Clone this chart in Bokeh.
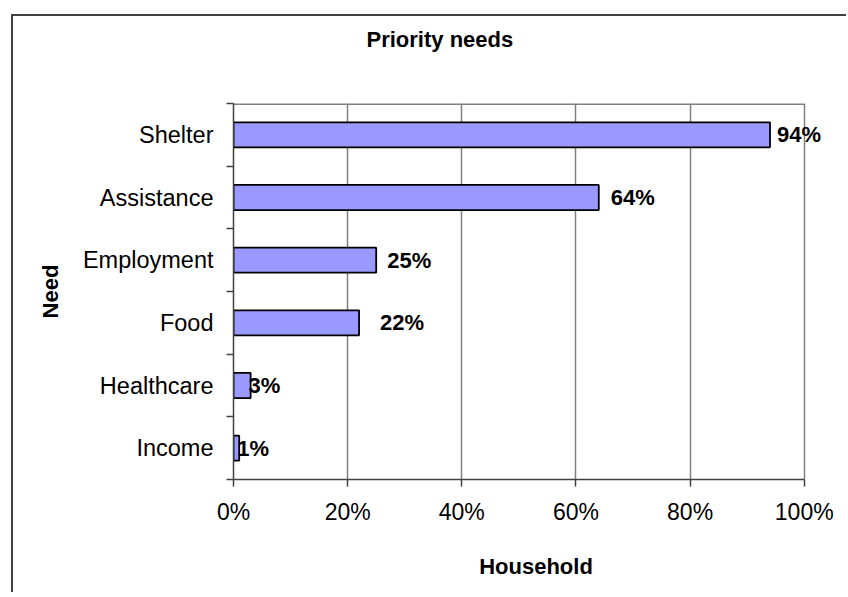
from bokeh.plotting import figure
from bokeh.models import (FixedTicker, PrintfTickFormatter, ColumnDataSource,
                          Range1d, LabelSet, Title)
from bokeh.embed import file_html
from bokeh.resources import INLINE
from bokeh.core.properties import value

# ---- data ----
categories = ["Shelter", "Assistance", "Employment", "Food", "Healthcare", "Income"]
household_pct = [94, 64, 25, 22, 3, 1]
x_ticks = [0, 20, 40, 60, 80, 100]
title_text = "Priority needs"
x_title = "Household"
y_title = "Need"

# per-label horizontal nudges (px), as placed in the original
label_nudge_px = [7, 12, 11, 21, -2, -2]

n = len(categories)
ypos = [n - 1 - i for i in range(n)]
labels = [f"{v}%" for v in household_pct]

src = ColumnDataSource(dict(cat=categories, y=ypos, v=household_pct,
                            lab=labels, dx=label_nudge_px))

FONT = "Liberation Sans"
AXIS_COL = "#404040"
GRID_COL = "#808080"

x_lo, x_hi = x_ticks[0], x_ticks[-1]

p = figure(width=835, height=578,
           x_range=Range1d(x_lo, 106), y_range=Range1d(-0.5, n - 0.5),
           output_backend="svg", toolbar_location=None,
           min_border_left=220, min_border_right=10,
           min_border_top=87, min_border_bottom=115)

p.styles = {"margin-left": "11px", "margin-top": "14px",
            "border-left": "2px solid #404040", "border-top": "2px solid #404040"}

p.background_fill_color = "white"
p.border_fill_color = "white"
p.outline_line_color = None

# plot-area top border (right border = 100% gridline)
p.segment(x0=[x_lo], y0=[n - 0.5], x1=[x_hi], y1=[n - 0.5],
          line_color=GRID_COL, line_width=3)

p.hbar(y="y", left=0, right="v", height=0.4, source=src,
       fill_color="#9999FF", line_color="black", line_width=1.8)

lbl = LabelSet(x="v", y="y", text="lab", x_offset="dx", source=src,
               text_font=value(FONT), text_font_size="22px",
               text_font_style="bold", text_color="black",
               text_align="left", text_baseline="middle")
p.add_layout(lbl)

# title
p.title.text = title_text
p.title.text_font = FONT
p.title.text_font_size = "22px"
p.title.text_font_style = "bold"
p.title.text_color = "black"
p.title.align = "left"
p.title.offset = 133

spacer = Title(text=" ", text_font_size="31px", align="left")
p.add_layout(spacer, "above")

# x axis
xa = p.xaxis[0]
xa.bounds = (x_lo, x_hi)
xa.ticker = FixedTicker(ticks=x_ticks)
xa.formatter = PrintfTickFormatter(format="%d%%")
xa.major_tick_in = 0
xa.major_tick_out = 7
xa.minor_tick_line_color = None
xa.axis_line_color = AXIS_COL
xa.axis_line_width = 1.5
xa.major_tick_line_color = AXIS_COL
xa.major_tick_line_width = 1.5
xa.major_label_text_font = FONT
xa.major_label_text_font_size = "23px"
xa.major_label_text_color = "black"
xa.major_label_standoff = 12
xa.axis_label = x_title
xa.axis_label_text_font = FONT
xa.axis_label_text_font_size = "22px"
xa.axis_label_text_font_style = "bold"
xa.axis_label_text_color = "black"
xa.axis_label_standoff = 26

# y axis: labels at category centres, ticks at category boundaries
ya = p.yaxis[0]
ya.ticker = FixedTicker(ticks=ypos, minor_ticks=[k - 0.5 for k in range(n + 1)])
ya.major_label_overrides = {yy: c for yy, c in zip(ypos, categories)}
ya.major_tick_in = 0
ya.major_tick_out = 7
ya.major_tick_line_color = None
ya.minor_tick_in = 0
ya.minor_tick_out = 7
ya.minor_tick_line_color = AXIS_COL
ya.minor_tick_line_width = 1.5
ya.axis_line_color = AXIS_COL
ya.axis_line_width = 1.5
ya.major_label_text_font = FONT
ya.major_label_text_font_size = "23.5px"
ya.major_label_text_color = "black"
ya.major_label_standoff = 13
ya.axis_label = y_title
ya.axis_label_text_font = FONT
ya.axis_label_text_font_size = "22px"
ya.axis_label_text_font_style = "bold"
ya.axis_label_text_color = "black"
ya.axis_label_standoff = 17

p.xgrid.ticker = FixedTicker(ticks=x_ticks)
p.xgrid.grid_line_color = GRID_COL
p.xgrid.grid_line_width = 1.5
p.ygrid.visible = False

open("out.html", "w").write(file_html(p, INLINE))
